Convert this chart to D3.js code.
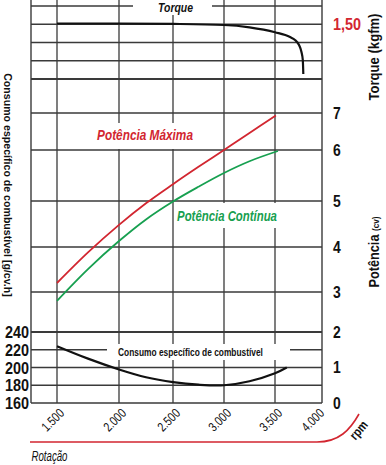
<!DOCTYPE html>
<html><head><meta charset="utf-8">
<script src="https://cdn.jsdelivr.net/npm/d3@7"></script>
<style>html,body{margin:0;padding:0;background:#fff}svg{display:block}</style>
</head><body><svg id="c" width="386" height="465"></svg>
<script>
// ---------- data ----------
const rpmTicks = [1500, 2000, 2500, 3000, 3500, 4000];
const rpmGrid = [1500, 2000, 2500, 3000, 3500];
const powerTicks = [0, 1, 2, 3, 4, 5, 6, 7];
const consTicks = [160, 180, 200, 220, 240];
const torqueGrid = [1.2, 1.3, 1.4, 1.5, 1.6];
const torqueLabels = [1.5];

const rpmMax = [1500, 1750, 2000, 2250, 2500, 2750, 3000, 3250, 3510];
const potMax = [3.2, 3.88, 4.48, 4.95, 5.33, 5.67, 6.0, 6.46, 6.935];

const rpmCont = [1500, 1750, 2000, 2250, 2500, 2750, 3000, 3250, 3535];
const potCont = [2.78, 3.51, 4.13, 4.6, 4.99, 5.28, 5.55, 5.78, 5.98];

const rpmCons = [1500, 1750, 2000, 2250, 2500, 2750, 3000, 3250, 3500, 3640];
const consumo = [224, 210, 197.8, 189, 183.5, 180.6, 180, 184.5, 193.5, 200];

const rpmTorque = [1500, 2000, 2500, 3000, 3250, 3500, 3679, 3738, 3786, 3815, 3831, 3837];
const torque = [1.504, 1.504, 1.502, 1.496, 1.483, 1.456, 1.430, 1.414, 1.386, 1.348, 1.304, 1.227];

// ---------- layout ----------
const FONT = "'Liberation Sans', Arial, sans-serif";
const RED = "#d22630", GREEN = "#17a050", GRID = "#3a3a3a";
const L = 31, R = 322, TOP = 0, BOT = 403;

const svg = d3.select("#c");
svg.append("rect").attr("width", 386).attr("height", 465).attr("fill", "#fff");

const x = d3.scaleLinear().domain(rpmTicks).range([57, 119, 173, 224, 275, 317]);
const yP = d3.scaleLinear().domain(powerTicks).range([403, 367, 332, 292, 247, 201, 150, 113]);
const yC = d3.scaleLinear().domain([160, 240]).range([403, 332]);
const yT = d3.scaleLinear().domain([1.2, 1.6]).range([79, 6]);

const locale = d3.formatLocale({decimal: ",", thousands: ".", grouping: [3], currency: ["", ""]});
const fRpm = locale.format(",");
const fTq = locale.format(",.2f");

const g = svg.append("g");
const hl = (y, x1 = L, x2 = R, w = 1.3) => g.append("line").attr("x1", x1).attr("x2", x2)
  .attr("y1", y).attr("y2", y).attr("stroke", GRID).attr("stroke-width", w);
torqueGrid.forEach(v => hl(yT(v), L, R, v === 1.2 ? 1.8 : 1.3));
powerTicks.filter(v => v >= 2).forEach(v => hl(yP(v), L, R, v === 2 ? 1.8 : 1.3));
consTicks.filter(v => v < 240).forEach(v => hl(yC(v)));
rpmGrid.forEach(v => g.append("line").attr("x1", x(v)).attr("x2", x(v)).attr("y1", TOP).attr("y2", BOT)
  .attr("stroke", GRID).attr("stroke-width", 1.3));
[L, R].forEach(xx => g.append("line").attr("x1", xx).attr("x2", xx).attr("y1", TOP).attr("y2", BOT)
  .attr("stroke", GRID).attr("stroke-width", 1.4));

// white boxes behind in-chart labels
const box = (x1, y1, x2, y2) => svg.append("rect").attr("x", x1).attr("y", y1)
  .attr("width", x2 - x1).attr("height", y2 - y1).attr("fill", "#fff");
box(133, 0, 212, 15);
box(95, 123, 196, 149);
box(175, 203, 281, 228);
box(107, 344, 290, 360);

// curves
const line = (xs, ys, sy, curve) => d3.line().curve(curve)
  .x((d, i) => x(xs[i])).y((d, i) => sy(ys[i]))(ys);
const smooth = d3.curveCatmullRom.alpha(0.5);
svg.append("path").attr("d", line(rpmTorque, torque, yT, d3.curveMonotoneX)).attr("fill", "none")
  .attr("stroke", "#111").attr("stroke-width", 2.2);
svg.append("path").attr("d", line(rpmMax, potMax, yP, smooth)).attr("fill", "none")
  .attr("stroke", RED).attr("stroke-width", 1.8);
svg.append("path").attr("d", line(rpmCont, potCont, yP, smooth)).attr("fill", "none")
  .attr("stroke", GREEN).attr("stroke-width", 1.8);
svg.append("path").attr("d", line(rpmCons, consumo, yC, smooth)).attr("fill", "none")
  .attr("stroke", "#111").attr("stroke-width", 2.2);

// text helper: horizontally condensed via scale; o.w fits the text to a width
const txt = (s, o, extra) => {
  const t = svg.append("text").text(s)
    .attr("font-family", FONT).attr("font-size", o.size)
    .attr("font-weight", o.weight || "normal").attr("font-style", o.style || "normal")
    .attr("text-anchor", o.anchor || "start").attr("fill", o.fill || "#111");
  if (o.dy) t.attr("dy", o.dy);
  if (extra) extra(t);
  let sx = o.sx || 1;
  if (o.w) sx = o.w / t.node().getComputedTextLength();
  t.attr("transform", `translate(${o.x},${o.y}) rotate(${o.rot || 0}) scale(${sx},1)`);
  return t;
};

consTicks.forEach(v => txt(v, {x: 29, y: yC(v), dy: "0.36em", anchor: "end", size: 17, sx: 0.85, weight: "bold"}));
powerTicks.forEach(v => txt(v, {x: 333, y: yP(v), dy: "0.36em", size: 17, sx: 0.82, weight: "bold"}));
torqueLabels.forEach(v => txt(fTq(v), {x: 333, y: yT(v), dy: "0.36em", size: 17, w: 28, weight: "bold", fill: RED}));
rpmTicks.forEach(v => txt(fRpm(v), {x: x(v) + 8, y: 414, rot: -45, anchor: "end", size: 13, w: 26, fill: "#111"}));

txt("Torque", {x: 175.5, y: 12, anchor: "middle", size: 13.5, w: 35, weight: "bold", style: "italic"});
txt("Potência Máxima", {x: 145, y: 140, anchor: "middle", size: 14.5, w: 96, weight: "bold", style: "italic", fill: RED});
txt("Potência Contínua", {x: 227, y: 221, anchor: "middle", size: 14, w: 100, weight: "bold", style: "italic", fill: GREEN});
txt("Consumo específico de combustível", {x: 190.5, y: 356, anchor: "middle", size: 10.5, w: 145, weight: "bold"});
txt("Consumo específico de combustível [g/cv.h]", {x: 8, y: 185, rot: 90, anchor: "middle", size: 11.5, w: 224,
  weight: "bold", dy: "0.35em"});
txt("Torque (kgfm)", {x: 374, y: 57, rot: -90, anchor: "middle", size: 14, w: 87, weight: "bold", dy: "0.35em"});
txt("Potência ", {x: 374, y: 252, rot: -90, anchor: "middle", size: 14, w: 71, weight: "bold", dy: "0.35em"},
  t => t.append("tspan").text("(cv)").attr("font-size", 9));

// bottom swoosh + rpm / Rotação
const sw = d3.path();
sw.moveTo(L - 1, 442);
sw.lineTo(x(4000), 442);
sw.bezierCurveTo(x(4000) + 22, 442, x(4000) + 33, 430, x(4000) + 42, 414);
svg.append("path").attr("d", sw.toString()).attr("fill", "none").attr("stroke", RED).attr("stroke-width", 1.6);
txt("rpm", {x: 362, y: 433, rot: -50, anchor: "middle", size: 13, sx: 0.82, weight: "bold"});
txt("Rotação", {x: 31.5, y: 461, size: 15, w: 36, style: "italic", fill: "#111"});
</script></body></html>
